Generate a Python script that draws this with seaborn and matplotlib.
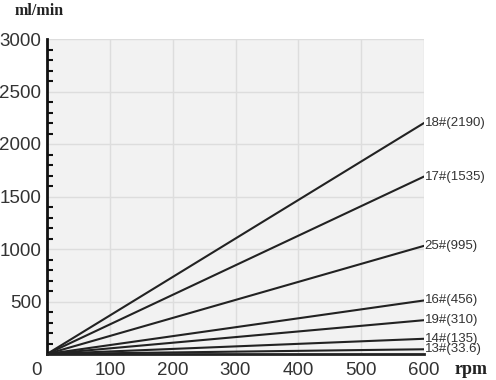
import matplotlib
matplotlib.use("Agg")
import matplotlib.pyplot as plt
import matplotlib.transforms as mtransforms
import seaborn as sns
import pandas as pd

rpm = [0, 600]
labels = ["18#(2190)", "17#(1535)", "25#(995)", "16#(456)", "19#(310)", "14#(135)", "13#(33.6)"]
end_values = [2200, 1690, 1030, 510, 322, 145, 45]
x_ticks = [0, 100, 200, 300, 400, 500, 600]
y_ticks = [0, 500, 1000, 1500, 2000, 2500, 3000]
y_tick_labels = ["", "500", "1000", "1500", "2000", "2500", "3000"]

rows = []
for lab, v in zip(labels, end_values):
    for r in rpm:
        rows.append({"rpm": r, "flow": v * r / 600.0, "pump": lab})
df = pd.DataFrame(rows)

sns.set_style("white")
plt.rcParams["font.family"] = ["Liberation Sans", "DejaVu Sans"]

fig = plt.figure(figsize=(4.96, 3.80), dpi=100)
ax = fig.add_axes([47/496, 1-354/380, (424-47)/496, (354-39)/380])
ax.set_facecolor("#f2f2f2")

sns.lineplot(data=df, x="rpm", y="flow", hue="pump", palette=["#222222"]*len(labels),
             linewidth=1.5, legend=False, ax=ax)

ax.set_xlim(0, 600)
ax.set_ylim(0, 3000)
ax.set_xticks(x_ticks)
ax.set_xticklabels([str(t) for t in x_ticks])
ax.set_yticks(y_ticks)
ax.set_yticklabels(y_tick_labels)
ax.set_yticks(range(0, 3001, 100), minor=True)
ax.grid(True, color="#dddddd", linewidth=1)
ax.set_axisbelow(True)
ax.set_xlabel("")
ax.set_ylabel("")

for s in ["top", "right"]:
    ax.spines[s].set_visible(False)
ax.spines["left"].set_color("#111111")
ax.spines["left"].set_linewidth(2)
ax.spines["bottom"].set_color("#222222")
ax.spines["bottom"].set_linewidth(2)

ax.tick_params(axis="y", which="major", direction="inout", length=6, width=1.5,
               labelsize=13.5, colors="#111111", labelcolor="#333333", pad=1)
ax.tick_params(axis="y", which="minor", direction="in", length=4, width=1.5, colors="#111111", left=True)
ax.tick_params(axis="x", which="both", length=0, labelsize=13.5, labelcolor="#333333", pad=6)

# shift "0" x tick label left
xl = ax.get_xticklabels()
off = mtransforms.ScaledTranslation(-10/100, 0, fig.dpi_scale_trans)
xl[0].set_transform(xl[0].get_transform() + off)

for lab, v in zip(labels, end_values):
    ax.text(601, v, lab, fontsize=9.5, color="#333333", va="center", ha="left", clip_on=False)

fig.text(15/496, 1-11/380, "ml/min", fontsize=11.5, fontweight="bold",
         family=["Liberation Serif", "DejaVu Serif"], va="center", ha="left", color="#222222")
fig.text(455/496, 1-369/380, "rpm", fontsize=13, fontweight="bold",
         family=["Liberation Serif", "DejaVu Serif"], va="center", ha="left", color="#222222")

fig.savefig("out.png", dpi=100)
